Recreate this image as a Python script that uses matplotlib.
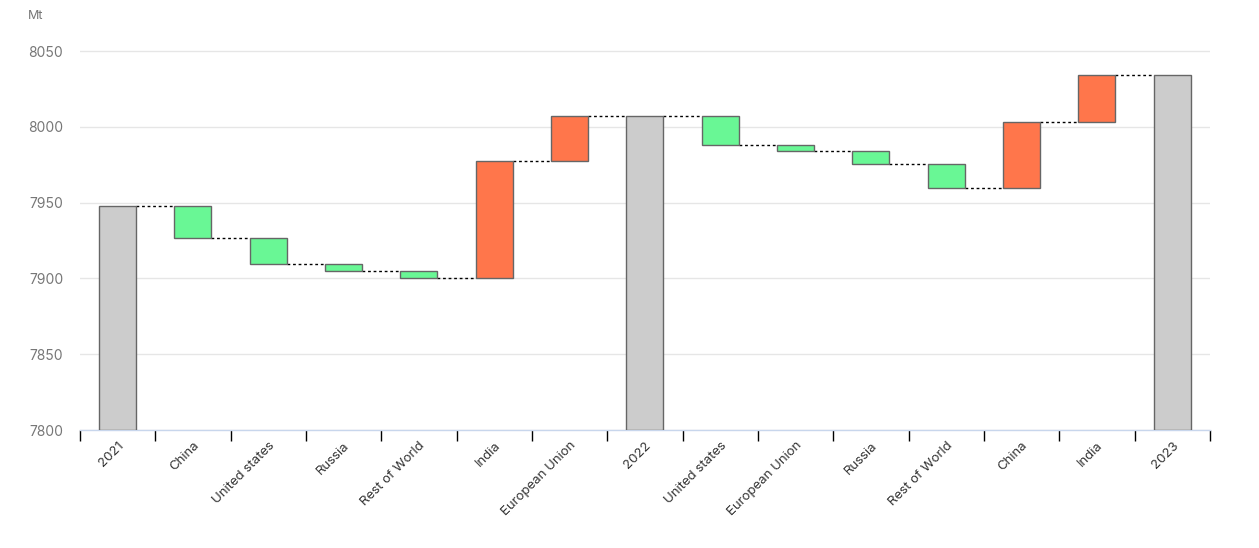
import matplotlib.pyplot as plt
import numpy as np

# Waterfall of CO2 emissions, Mt
labels = ["2021", "China", "United states", "Russia", "Rest of World", "India",
          "European Union", "2022", "United states", "European Union", "Russia",
          "Rest of World", "China", "India", "2023"]
start_value = 7948.0
changes_2022 = [-21.6, -17.0, -4.8, -4.2, 77.2, 29.7]
changes_2023 = [-19.3, -4.0, -8.5, -15.6, 43.6, 30.5]

GREY = "#cccccc"
GREEN = "#69f795"
ORANGE = "#ff764b"
EDGE = "#666666"

plt.rcParams["font.family"] = ["Inter", "DejaVu Sans"]

# Build bar bottoms / heights
bottoms, heights, colors = [], [], []
level = start_value
bottoms.append(7800); heights.append(level - 7800); colors.append(GREY)
for changes in (changes_2022, changes_2023):
    for d in changes:
        bottoms.append(level if d > 0 else level + d)
        heights.append(abs(d))
        colors.append(ORANGE if d > 0 else GREEN)
        level += d
    bottoms.append(7800); heights.append(level - 7800); colors.append(GREY)

# running level after each bar
levels = []
level = start_value
levels.append(level)
for changes in (changes_2022, changes_2023):
    for d in changes:
        level += d
        levels.append(level)
    levels.append(level)

x = np.arange(len(labels))
width = 0.49

fig = plt.figure(figsize=(12.59, 5.48), dpi=100)
ax = fig.add_axes([0.0635, 0.2153, 0.8975, 0.7192])

ax.bar(x, heights, bottom=bottoms, width=width, color=colors,
       edgecolor=EDGE, linewidth=1.0, zorder=3)

for i in range(len(labels) - 1):
    ax.plot([x[i] + width / 2, x[i + 1] - width / 2], [levels[i], levels[i]],
            color="black", linestyle=(0, (2, 2)), linewidth=1.0, zorder=2)

ax.set_xlim(-0.5, len(labels) - 0.5)
ax.set_ylim(7800, 8060)
ax.set_yticks([7800, 7850, 7900, 7950, 8000, 8050])
ax.grid(axis="y", color="#e6e6e6", linewidth=1.0, zorder=0)
ax.tick_params(axis="y", length=0, labelsize=10, labelcolor="#777777", pad=12)

ax.set_xticks(x)
ax.set_xticklabels(labels, rotation=45, ha="right", rotation_mode="anchor",
                   fontsize=9.5, color="#333333")
ax.set_xticks(np.arange(-0.5, len(labels)), minor=True)
ax.tick_params(axis="x", which="major", length=0, pad=7)
ax.tick_params(axis="x", which="minor", length=8, width=1.0, color="black")

for side in ["top", "right", "left"]:
    ax.spines[side].set_visible(False)
ax.spines["bottom"].set_color("#c8d6ec")
ax.spines["bottom"].set_linewidth(1.0)

fig.text(28 / 1259, 1 - 16 / 548, "Mt", fontsize=9, color="#777777",
         ha="left", va="center")

fig.savefig("out.png", dpi=100)
plt.close()
